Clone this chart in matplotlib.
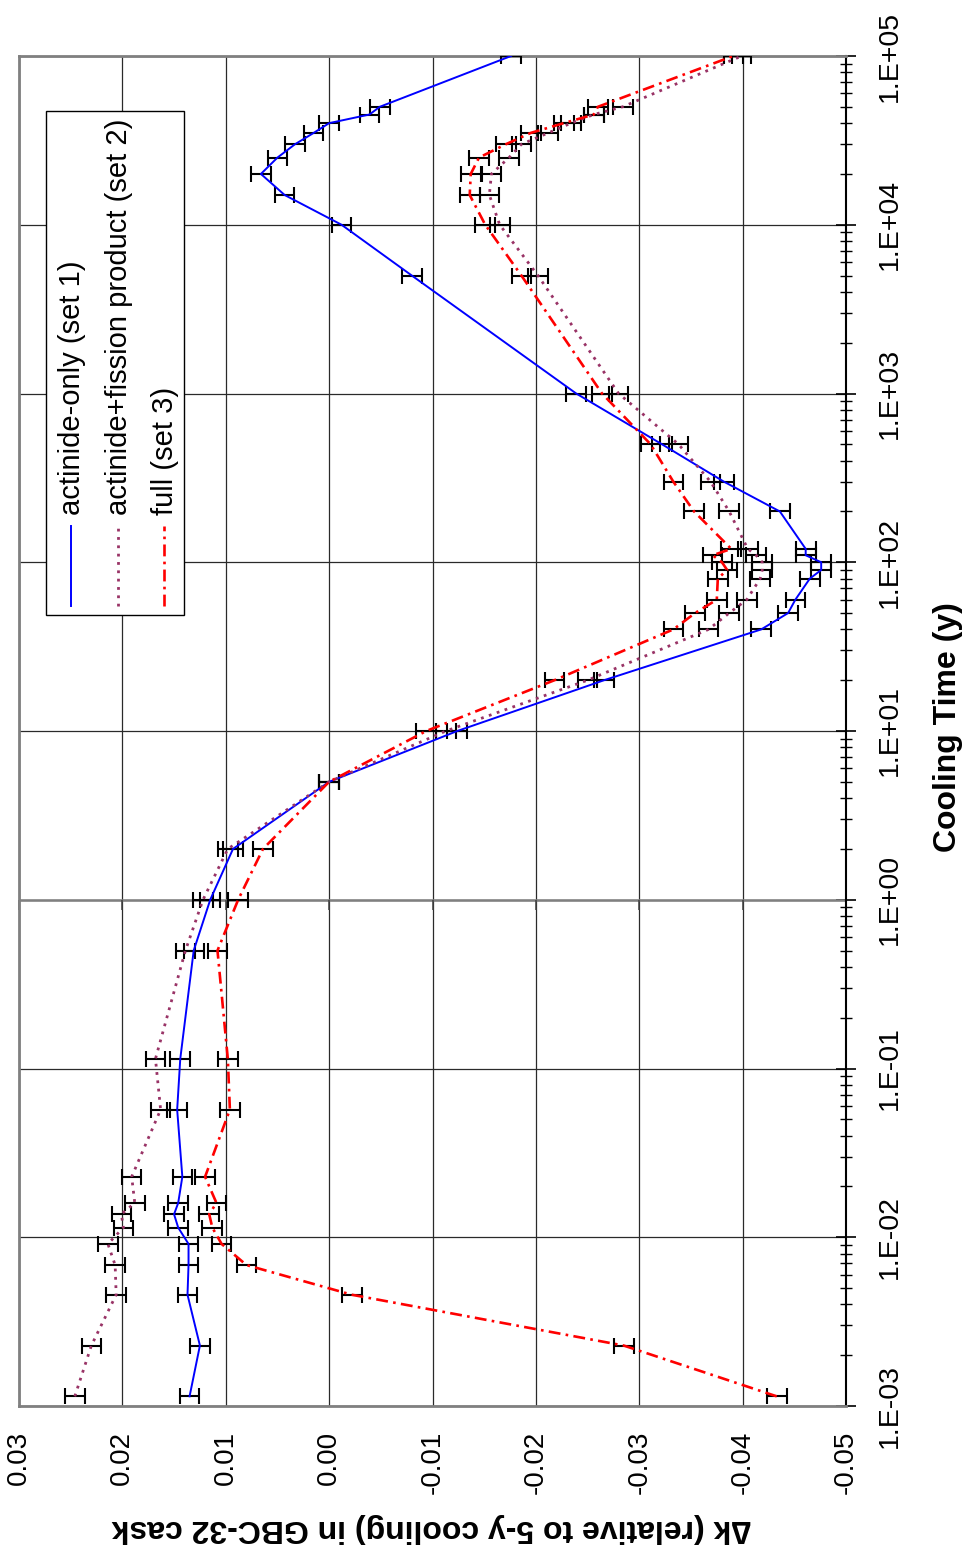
import matplotlib
matplotlib.use('Agg')
import matplotlib.pyplot as plt
from matplotlib.patches import Rectangle
from matplotlib.lines import Line2D
from matplotlib.ticker import LogLocator, NullFormatter

plt.rcParams['font.family'] = ['Liberation Sans', 'DejaVu Sans']

# cooling times: first in hours, then in years
hours = [10, 20, 40, 60, 80, 100, 120, 140, 200, 500, 1000]
years = [0.5, 1, 2, 5, 10, 20, 40, 50, 60, 80, 90, 100, 110, 120, 200, 300, 500,
         1000, 5000, 10000, 15000, 20000, 25000, 30000, 35000, 40000, 45000, 50000, 100000]
cool_time = [h / 8766 for h in hours] + years

set1 = [0.0135, 0.0125, 0.0137, 0.0136, 0.0136, 0.0146, 0.0150, 0.0146, 0.0142, 0.0147, 0.0144,
        0.0131, 0.0115, 0.0093, 0.0, -0.0124, -0.0266, -0.0418, -0.0444, -0.0451, -0.0465,
        -0.0476, -0.0476, -0.0461, -0.0461, -0.0436, -0.0382, -0.0322, -0.0239, -0.0080,
        -0.0012, 0.0043, 0.0066, 0.0050, 0.0033, 0.0015, 0.0000, -0.0039, -0.0049, -0.0176]
set2 = [0.0246, 0.0230, 0.0206, 0.0207, 0.0214, 0.0199, 0.0201, 0.0188, 0.0191, 0.0163, 0.0168,
        0.0139, 0.0122, 0.0098, 0.0, -0.0113, -0.0250, -0.0367, -0.0387, -0.0404, -0.0417,
        -0.0419, -0.0419, -0.0413, -0.0405, -0.0387, -0.0369, -0.0338, -0.0280, -0.0202,
        -0.0165, -0.0155, -0.0157, -0.0174, -0.0186, -0.0212, -0.0234, -0.0256, -0.0284, -0.0399]
set3 = [-0.0433, -0.0285, -0.0022, 0.0080, 0.0104, 0.0113, 0.0116, 0.0109, 0.0120, 0.0096, 0.0098,
        0.0108, 0.0088, 0.0064, 0.0, -0.0094, -0.0218, -0.0333, -0.0354, -0.0375, -0.0376,
        -0.0385, -0.0380, -0.0371, -0.0389, -0.0353, -0.0333, -0.0311, -0.0264, -0.0186,
        -0.0151, -0.0136, -0.0137, -0.0145, -0.0171, -0.0195, -0.0227, -0.0256, -0.0260, -0.0391]
err = 0.00095

dk_ticks = [0.03, 0.02, 0.01, 0.00, -0.01, -0.02, -0.03, -0.04, -0.05]
dk_labels = ['0.03', '0.02', '0.01', '0.00', '-0.01', '-0.02', '-0.03', '-0.04', '-0.05']
t_ticks = [1e-3, 1e-2, 1e-1, 1e0, 1e1, 1e2, 1e3, 1e4, 1e5]
t_labels = ['1.E-03', '1.E-02', '1.E-01', '1.E+00', '1.E+01', '1.E+02', '1.E+03', '1.E+04', '1.E+05']

names = ['actinide-only (set 1)', 'actinide+fission product (set 2)', 'full (set 3)']
colors = ['#0000FF', '#993366', '#FF0000']
styles = ['-', (0, (1, 2)), (0, (4.5, 2, 1, 2))]
widths = [1.4, 2.0, 1.9]

W, H = 964, 1552
fig = plt.figure(figsize=(W / 100, H / 100), dpi=100)
ax = fig.add_axes([19 / W, 1 - 1406 / H, (846 - 19) / W, (1406 - 56) / H])

for s, c, ls, lw in zip([set1, set2, set3], colors, styles, widths):
    ax.errorbar(s, cool_time, xerr=err, fmt='none', ecolor='k', elinewidth=1.5,
                capsize=5.5, capthick=1.5, zorder=3)
    ax.plot(s, cool_time, color=c, linestyle=ls, linewidth=lw, zorder=4)

ax.set_yscale('log')
ax.set_ylim(1e-3, 1e5)
ax.set_xlim(0.03, -0.05)

ax.set_xticks(dk_ticks)
ax.set_xticklabels(dk_labels, rotation=90, fontsize=20)
ax.tick_params(axis='x', length=0, pad=18)

ax.yaxis.tick_right()
ax.set_yticks(t_ticks)
ax.set_yticklabels(t_labels, rotation=90, fontsize=20.5, va='center', ha='left')
ax.yaxis.set_minor_locator(LogLocator(base=10, subs=range(2, 10), numticks=20))
ax.yaxis.set_minor_formatter(NullFormatter())
ax.tick_params(axis='y', which='major', direction='inout', length=15, width=1.2, pad=15)
ax.tick_params(axis='y', which='minor', direction='inout', length=8, width=1.0)

ax.grid(True, which='major', color='#2a2a2a', linewidth=0.9)
ax.set_axisbelow(True)

# value axis crosses the time axis at 1 y
ax.axhline(1, color='#808080', linewidth=1.8, zorder=2)
ax.plot(dk_ticks, [1] * len(dk_ticks), linestyle='none', marker=[(0, 0), (0, -1)],
        markersize=14, markeredgewidth=1.1, color='#404040', clip_on=False, zorder=2)

for side in ['left', 'top', 'bottom']:
    ax.spines[side].set_color('#808080')
    ax.spines[side].set_linewidth(2)
ax.spines['right'].set_color('k')
ax.spines['right'].set_linewidth(1.5)

fig.text(948 / W, 1 - 727 / H, 'Cooling Time (y)', rotation=90, fontsize=23,
         fontweight='bold', ha='center', va='center')
fig.text(431 / W, 1 - 1528 / H, '\u2206k (relative to 5-y cooling) in GBC-32 cask',
         rotation=180, fontsize=23, fontweight='bold', ha='center', va='center')

# legend drawn by hand so that its text can be rotated
fig.add_artist(Rectangle((46 / W, 1 - 615 / H), 138 / W, 504 / H, transform=fig.transFigure,
                         facecolor='white', edgecolor='k', linewidth=1, zorder=5))
for xpos, name, c, ls, lw in zip([71, 118, 164], names, colors, styles, widths):
    fig.add_artist(Line2D([xpos / W, xpos / W], [1 - 606 / H, 1 - 526 / H],
                          transform=fig.transFigure, color=c, linestyle=ls,
                          linewidth=lw, zorder=6))
    fig.text((xpos + 1) / W, 1 - 515 / H, name, rotation=90, rotation_mode='anchor',
             ha='left', va='center', fontsize=21, zorder=6)

fig.savefig('out.png', dpi=100)
